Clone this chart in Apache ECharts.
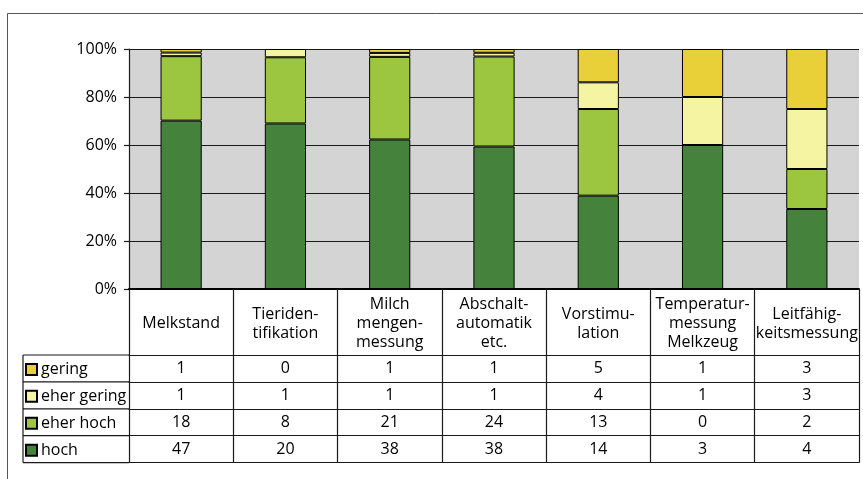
<!DOCTYPE html>
<html>
<head>
<meta charset="utf-8">
<script src="https://cdn.jsdelivr.net/npm/echarts@6/dist/echarts.min.js"></script>
<style>
  html, body { margin: 0; padding: 0; background: #fff; }
  #chart { width: 863px; height: 479px; }
</style>
</head>
<body>
<div id="chart"></div>
<script>
// Categories (header row of the data table)
const categories = [
  'Melkstand',
  'Tieriden-\ntifikation',
  'Milch\nmengen-\nmessung',
  'Abschalt-\nautomatik\netc.',
  'Vorstimu-\nlation',
  'Temperatur-\nmessung\nMelkzeug',
  'Leitfähig-\nkeitsmessung'
];

// Counts per rating
const gering     = [1, 0, 1, 1, 5, 1, 3];
const eherGering = [1, 1, 1, 1, 4, 1, 3];
const eherHoch   = [18, 8, 21, 24, 13, 0, 2];
const hoch       = [47, 20, 38, 38, 14, 3, 4];

// Percent axis ticks
const yTicks = [0, 20, 40, 60, 80, 100];

// Stack order bottom to top, and table row order top to bottom
const stackSeries = [
  { name: 'hoch', values: hoch, color: '#45833c' },
  { name: 'eher hoch', values: eherHoch, color: '#9cc640' },
  { name: 'eher gering', values: eherGering, color: '#f4f4a2' },
  { name: 'gering', values: gering, color: '#e9d038' }
];
const tableRows = [stackSeries[3], stackSeries[2], stackSeries[1], stackSeries[0]];

// Layout
const FONT = '"Open Sans", "Noto Sans", sans-serif';
const GRID = { left: 129, top: 49, width: 730, height: 240 };
const HEADER_H = 66;
const ROW_H = 26.9;
const TABLE_LEFT = 23;
const LINE = '#1a1a1a';

const totals = categories.map((_, i) => stackSeries.reduce((s, d) => s + d.values[i], 0));
const share = (vals) => vals.map((v, i) => v / totals[i] * 100);

// Data-table rows are extra category axes below the plot
const rowAxes = [];
for (let r = 0; r <= tableRows.length; r++) {
  const row = tableRows[r];
  rowAxes.push({
    type: 'category',
    gridIndex: 0,
    position: 'bottom',
    offset: HEADER_H + r * ROW_H,
    z: 3,
    data: categories,
    axisLine: { show: true, lineStyle: { color: LINE, width: 1.2 } },
    axisTick: { show: false },
    splitLine: { show: false },
    splitArea: { show: false },
    axisLabel: row ? {
      show: true,
      interval: 0,
      fontFamily: FONT,
      fontSize: 16,
      color: '#000',
      verticalAlign: 'middle',
      margin: ROW_H / 2,
      formatter: (v, i) => String(row.values[i])
    } : { show: false }
  });
}

const tableTop = GRID.top + GRID.height + HEADER_H;
const tableBottom = tableTop + tableRows.length * ROW_H;

// Legend cell for each table row
const legends = tableRows.map((row, r) => ({
  data: [row.name],
  left: TABLE_LEFT + 2,
  top: tableTop + r * ROW_H + (ROW_H - 16) / 2 + 1,
  orient: 'horizontal',
  icon: 'rect',
  itemWidth: 11,
  itemHeight: 11,
  itemGap: 5,
  padding: 0,
  selectedMode: false,
  textStyle: { fontFamily: FONT, fontSize: 16, color: '#000', padding: [0, 0, 0, -1] }
}));

const chart = echarts.init(document.getElementById('chart'), null, { renderer: 'canvas' });

const graphics = [
  // grey plot background, beneath everything else
  { type: 'rect', silent: true, z: -10,
    shape: { x: GRID.left, y: GRID.top, width: GRID.width, height: GRID.height },
    style: { fill: '#d4d4d4' } },
  // outer chart frame
  { type: 'rect', silent: true, shape: { x: 7.5, y: 13.5, width: 1000, height: 1000 },
    style: { fill: 'none', stroke: '#555', lineWidth: 1 } },
  // left column of the data table
  { type: 'line', silent: true,
    shape: { x1: TABLE_LEFT, y1: tableTop, x2: TABLE_LEFT, y2: tableBottom },
    style: { stroke: LINE, lineWidth: 1.2 } }
];
for (let r = 0; r <= tableRows.length; r++) {
  const y = tableTop + r * ROW_H;
  graphics.push({ type: 'line', silent: true,
    shape: { x1: TABLE_LEFT, y1: y, x2: GRID.left, y2: y },
    style: { stroke: LINE, lineWidth: 1.2 } });
}

chart.setOption({
  animation: false,
  backgroundColor: '#fff',
  textStyle: { fontFamily: FONT },
  grid: { left: GRID.left, top: GRID.top, width: GRID.width, height: GRID.height,
          show: false },
  legend: legends,
  xAxis: [{
    type: 'category',
    data: categories,
    position: 'bottom',
    z: 3,
    axisLine: { show: true, lineStyle: { color: '#000', width: 2 } },
    axisTick: { show: true, interval: 0, alignWithLabel: false, inside: false,
                length: HEADER_H + tableRows.length * ROW_H,
                lineStyle: { color: LINE, width: 1.2 } },
    axisLabel: { interval: 0, fontFamily: FONT, fontSize: 16, lineHeight: 19,
                 color: '#000', align: 'center', verticalAlign: 'middle',
                 margin: HEADER_H / 2 + 1.5, hideOverlap: false },
    splitLine: { show: false },
    splitArea: { show: false }
  }].concat(rowAxes),
  yAxis: {
    type: 'value',
    z: 1,
    min: yTicks[0],
    max: yTicks[yTicks.length - 1],
    interval: yTicks[1] - yTicks[0],
    axisLine: { show: true, lineStyle: { color: LINE, width: 1.2 } },
    axisTick: { show: true, length: 5, lineStyle: { color: LINE, width: 1.2 } },
    axisLabel: { fontFamily: FONT, fontSize: 16, color: '#000', margin: 12,
                 formatter: '{value}%' },
    splitArea: { show: false },
    splitLine: { show: false }
  },
  series: stackSeries.map(s => ({
    name: s.name,
    type: 'bar',
    stack: 'total',
    xAxisIndex: 0,
    z: 2,
    barWidth: '39.5%',
    data: share(s.values),
    itemStyle: { color: s.color, borderColor: '#000', borderWidth: 1 }
  })),
  graphic: graphics
});

// Horizontal gridlines at each percent tick, placed through the value axis and kept under the bars
yTicks.slice(1).forEach(v => {
  const y = Math.round(chart.convertToPixel({ yAxisIndex: 0 }, v)) + 0.5;
  graphics.push({ type: 'line', silent: true, z: 1,
    shape: { x1: GRID.left, y1: y, x2: GRID.left + GRID.width, y2: y },
    style: { stroke: LINE, lineWidth: 1.2 } });
});
chart.setOption({ graphic: graphics });
</script>
</body>
</html>
